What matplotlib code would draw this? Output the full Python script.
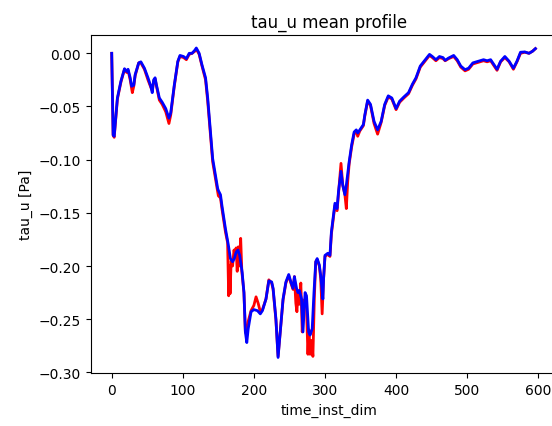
import matplotlib
matplotlib.use("Agg")
import matplotlib.pyplot as plt

# blue series
x_blue = [0, 2, 3.5, 8, 13, 18, 21, 23, 26, 28, 31, 33, 38, 41, 46, 51, 55, 57, 59, 61,
          63, 67, 71, 76, 80.5, 83, 88, 93, 96, 101, 105, 109, 113, 117, 119, 123, 127, 132, 135, 139,
          142, 145, 149, 150, 153, 155, 160, 164, 167, 170, 172.5, 175, 177.5, 180, 183.5, 186, 188, 190, 192, 196,
          200, 205, 209, 212, 217, 221, 225, 227, 231, 234, 237, 241, 245, 249, 252, 255, 257, 260, 262, 264,
          267, 269, 272, 274, 277, 279, 282, 284.5, 287, 289, 292, 294, 297, 298, 300, 304, 307, 309, 312, 314,
          317, 319, 322.5, 325, 328, 330, 334, 337.5, 341, 344, 346, 349, 354, 356, 360, 364, 369, 374, 379, 384,
          389, 394, 400, 405, 411, 417.5, 423, 428, 434, 441, 447, 451, 456, 461, 466, 469, 474, 481, 486, 491,
          497, 502, 508, 513, 518, 523, 528, 533, 538, 542, 547, 553, 559, 565, 570, 575, 581, 587, 592, 596]
y_blue = [0.0, -0.077, -0.078, -0.042, -0.026, -0.0145, -0.017, -0.015, -0.023, -0.031, -0.030, -0.020, -0.009, -0.008, -0.014, -0.023, -0.031, -0.037, -0.025, -0.023,
          -0.030, -0.042, -0.046, -0.052, -0.061, -0.056, -0.030, -0.0075, -0.002, -0.003, -0.005, 0.0, 0.0, 0.003, 0.005, 0.0, -0.011, -0.023, -0.042, -0.074,
          -0.099, -0.111, -0.127, -0.129, -0.133, -0.143, -0.165, -0.180, -0.193, -0.196, -0.193, -0.187, -0.185, -0.190, -0.206, -0.225, -0.262, -0.272, -0.259, -0.243,
          -0.241, -0.242, -0.245, -0.242, -0.231, -0.214, -0.215, -0.221, -0.250, -0.286, -0.262, -0.231, -0.215, -0.208, -0.215, -0.221, -0.210, -0.221, -0.225, -0.223,
          -0.231, -0.262, -0.225, -0.228, -0.262, -0.265, -0.259, -0.225, -0.196, -0.193, -0.199, -0.209, -0.231, -0.212, -0.190, -0.188, -0.190, -0.168, -0.152, -0.141,
          -0.146, -0.130, -0.111, -0.124, -0.133, -0.124, -0.102, -0.086, -0.074, -0.072, -0.075, -0.072, -0.067, -0.058, -0.044, -0.048, -0.064, -0.072, -0.064, -0.048,
          -0.040, -0.042, -0.052, -0.045, -0.041, -0.037, -0.029, -0.023, -0.012, -0.006, -0.001, -0.003, -0.006, -0.003, -0.004, -0.0066, -0.0044, -0.002, -0.006, -0.012,
          -0.0154, -0.014, -0.009, -0.008, -0.007, -0.006, -0.007, -0.006, -0.011, -0.015, -0.0075, -0.003, -0.0075, -0.014, -0.0075, 0.001, 0.0013, 0.0, 0.002, 0.0044]

# red series (mostly under the blue one, spikier in the trough)
x_red = [0, 2, 3.5, 8, 13, 18, 21, 23, 26, 29, 31, 33, 38, 41, 46, 51, 55, 57, 59, 61,
         63, 67, 71, 76, 80.5, 83, 88, 93, 96, 101, 105, 109, 113, 117, 119, 123, 127, 132, 135, 139,
         142, 145, 149, 150, 153, 155, 160, 163, 164.5, 165.5, 166.5, 168, 170, 172, 173, 175, 176.5, 178, 179.5, 181.4,
         183, 186, 188, 190, 192, 196, 200, 203, 206, 209, 212, 217, 221, 225, 227, 231, 234, 237, 241, 245,
         249, 252, 255, 257, 259, 260.5, 262, 264, 266, 268, 270, 272, 274, 276, 277.5, 279, 281, 283, 285, 287,
         289, 292, 294, 296, 298, 300, 304, 307, 309, 312, 314, 317, 319, 322.5, 325, 328, 330, 332, 334, 337.5,
         341, 344, 346, 349, 354, 356, 360, 364, 369, 374, 379, 384, 389, 394, 400, 405, 411, 417.5, 423, 428,
         434, 441, 447, 451, 456, 461, 466, 469, 474, 481, 486, 491, 497, 502, 508, 513, 518, 523, 528, 533,
         538, 542, 547, 553, 559, 565, 570, 575, 581, 587, 592, 596]
y_red = [0.0, -0.077, -0.079, -0.043, -0.027, -0.015, -0.018, -0.016, -0.025, -0.037, -0.031, -0.021, -0.009, -0.009, -0.015, -0.025, -0.032, -0.035, -0.026, -0.024,
         -0.031, -0.044, -0.048, -0.055, -0.066, -0.058, -0.031, -0.008, -0.003, -0.004, -0.006, -0.001, 0.0, 0.002, 0.004, -0.001, -0.012, -0.025, -0.045, -0.077,
         -0.102, -0.114, -0.130, -0.134, -0.136, -0.146, -0.168, -0.178, -0.228, -0.200, -0.226, -0.195, -0.200, -0.185, -0.188, -0.183, -0.205, -0.182, -0.200, -0.174,
         -0.205, -0.225, -0.262, -0.265, -0.252, -0.242, -0.237, -0.229, -0.235, -0.243, -0.241, -0.231, -0.213, -0.216, -0.222, -0.251, -0.285, -0.262, -0.232, -0.216,
         -0.209, -0.216, -0.222, -0.210, -0.235, -0.243, -0.225, -0.236, -0.216, -0.262, -0.232, -0.232, -0.240, -0.283, -0.260, -0.283, -0.270, -0.285, -0.230, -0.196,
         -0.194, -0.200, -0.212, -0.245, -0.212, -0.191, -0.189, -0.191, -0.170, -0.154, -0.143, -0.148, -0.132, -0.1035, -0.124, -0.133, -0.146, -0.120, -0.104, -0.088,
         -0.076, -0.073, -0.078, -0.073, -0.068, -0.059, -0.045, -0.049, -0.066, -0.076, -0.065, -0.049, -0.041, -0.043, -0.053, -0.046, -0.042, -0.038, -0.030, -0.024,
         -0.013, -0.007, -0.002, -0.004, -0.007, -0.004, -0.005, -0.007, -0.005, -0.003, -0.007, -0.013, -0.0165, -0.015, -0.010, -0.009, -0.008, -0.007, -0.008, -0.007,
         -0.012, -0.016, -0.008, -0.004, -0.008, -0.015, -0.008, 0.0, 0.001, 0.0, 0.002, 0.0044]

fig = plt.figure(figsize=(5.52, 4.27), dpi=100)
# right edge of the axes runs past the figure, as in the cropped original
ax = fig.add_axes([0.164, 0.1234, 0.866, 0.793])

ax.plot(x_red, y_red, color="red", linewidth=2)
ax.plot(x_blue, y_blue, color="blue", linewidth=2)

ax.set_xlim(-29.8, 642.6)
ax.set_ylim(-0.3009, 0.0175)
ax.set_xlabel("time_inst_dim")
ax.set_ylabel("tau_u [Pa]")
ax.set_title("tau_u mean profile")

fig.savefig("out.png", dpi=100)
